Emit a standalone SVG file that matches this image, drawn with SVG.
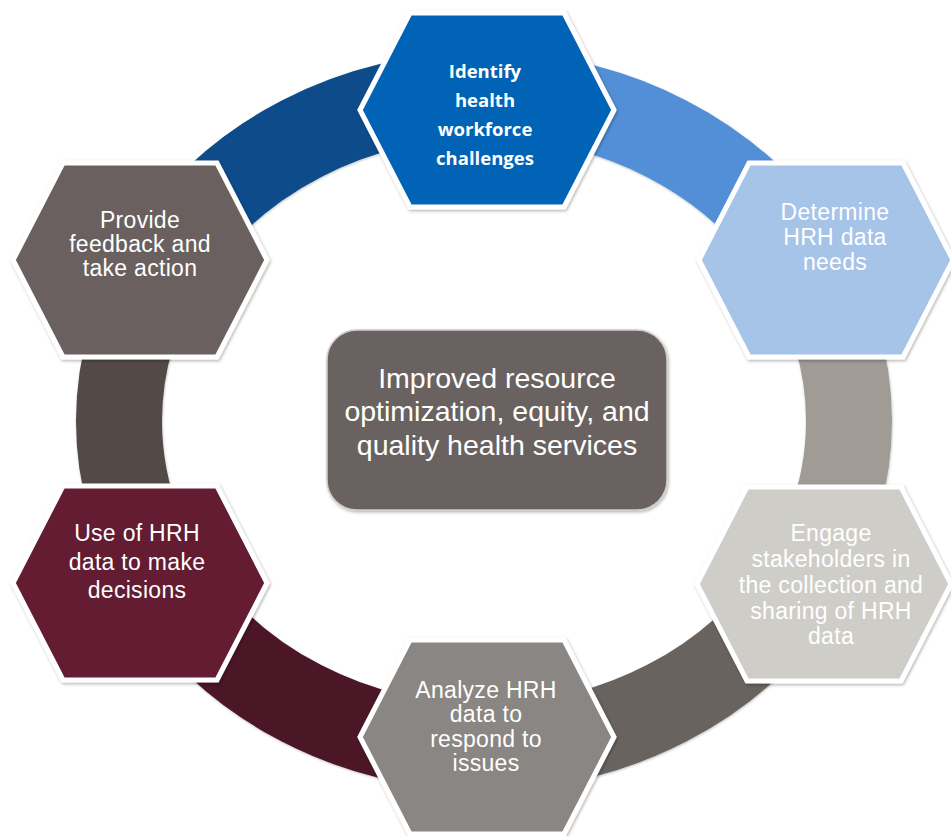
<svg xmlns="http://www.w3.org/2000/svg" width="951" height="836" viewBox="0 0 951 836">
  <style>
    .band { fill: none; stroke-width: 86; stroke-linecap: butt; filter: url(#bshadow); }
    .hex { stroke: #ffffff; stroke-width: 5; stroke-linejoin: miter; filter: url(#hshadow); }
    .t { font-family: "Liberation Sans", Arial, sans-serif; font-size: 23px; fill: #ffffff; text-anchor: middle; letter-spacing: 0.3px; }
    .tb { font-family: "Open Sans", "Noto Sans", sans-serif; font-weight: 700; font-size: 18.5px; fill: #ffffff; text-anchor: middle; }
    .tc { font-family: "Liberation Sans", Arial, sans-serif; font-size: 28.5px; fill: #ffffff; text-anchor: middle; }
  </style>
  <defs>
    <filter id="hshadow" x="-10%" y="-10%" width="120%" height="120%">
      <feDropShadow dx="1" dy="1.5" stdDeviation="1.8" flood-color="#000000" flood-opacity="0.3"/>
    </filter>
    <filter id="bshadow" filterUnits="userSpaceOnUse" x="0" y="0" width="951" height="836">
      <feDropShadow dx="0.5" dy="1" stdDeviation="1.2" flood-color="#000000" flood-opacity="0.25"/>
    </filter>
    <polygon id="hexshape" points="-127,0 -77,-97 77,-97 127,0 77,97 -77,97"/>
  </defs>
  <rect width="951" height="836" fill="#ffffff"/>

  <g id="connectors">
    <path class="band" stroke="#084c8a" d="M 167.9 258 A 365 326 0 0 1 484 95"/>
    <path class="band" stroke="#538fd7" d="M 484 95 A 365 326 0 0 1 800.1 258"/>
    <path class="band" stroke="#a09b95" d="M 800.1 258 A 365 326 0 0 1 800.1 584"/>
    <path class="band" stroke="#67645e" d="M 800.1 584 A 365 326 0 0 1 484 747"/>
    <path class="band" stroke="#4b1727" d="M 484 747 A 365 326 0 0 1 167.9 584"/>
    <path class="band" stroke="#524846" d="M 167.9 584 A 365 326 0 0 1 167.9 258"/>
  </g>

  <g id="node-identify">
    <use href="#hexshape" class="hex" fill="#0563b6" transform="translate(487,110)"/>
    <text class="tb"><tspan x="485" y="78">Identify</tspan><tspan x="485" y="107">health</tspan><tspan x="485" y="136">workforce</tspan><tspan x="485" y="165">challenges</tspan></text>
  </g>

  <g id="node-determine">
    <use href="#hexshape" class="hex" fill="#a6c3e8" transform="translate(826,260)"/>
    <text class="t"><tspan x="835" y="220">Determine</tspan><tspan x="835" y="245">HRH data</tspan><tspan x="835" y="270">needs</tspan></text>
  </g>

  <g id="node-engage">
    <use href="#hexshape" class="hex" fill="#cfcdc8" transform="translate(824,584)"/>
    <text class="t"><tspan x="831" y="541">Engage</tspan><tspan x="831" y="567">stakeholders in</tspan><tspan x="831" y="593">the collection and</tspan><tspan x="831" y="619">sharing of HRH</tspan><tspan x="831" y="644">data</tspan></text>
  </g>

  <g id="node-analyze">
    <use href="#hexshape" class="hex" fill="#8a8683" transform="translate(487,737)"/>
    <text class="t"><tspan x="486" y="698">Analyze HRH</tspan><tspan x="486" y="722">data to</tspan><tspan x="486" y="747">respond to</tspan><tspan x="486" y="771">issues</tspan></text>
  </g>

  <g id="node-use">
    <use href="#hexshape" class="hex" fill="#631d31" transform="translate(140,583)"/>
    <text class="t"><tspan x="137" y="541">Use of HRH</tspan><tspan x="137" y="570">data to make</tspan><tspan x="137" y="598">decisions</tspan></text>
  </g>

  <g id="node-provide">
    <use href="#hexshape" class="hex" fill="#6b615e" transform="translate(140,260)"/>
    <text class="t"><tspan x="140" y="228">Provide</tspan><tspan x="140" y="252">feedback and</tspan><tspan x="140" y="276">take action</tspan></text>
  </g>

  <g id="node-center">
    <rect x="327" y="330" width="340" height="180" rx="30" ry="30" fill="#6b6260" stroke="#d0cdcb" stroke-width="1.5" filter="url(#hshadow)"/>
    <text class="tc"><tspan x="497" y="388">Improved resource</tspan><tspan x="497" y="421">optimization, equity, and</tspan><tspan x="497" y="455">quality health services</tspan></text>
  </g>
</svg>
